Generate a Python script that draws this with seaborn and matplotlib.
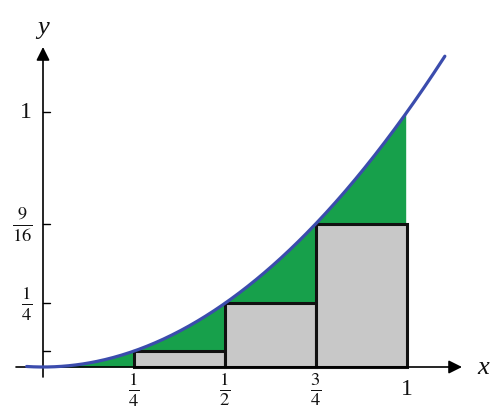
import numpy as np
import matplotlib
matplotlib.use("Agg")
import matplotlib.pyplot as plt
import seaborn as sns

# lower Riemann sum rectangles for y = x^2 on [0, 1], n = 4
rect_left = [0.25, 0.5, 0.75]
rect_height = [1 / 16, 1 / 4, 9 / 16]
rect_width = 0.25

ytick_vals = [1 / 16, 1 / 4, 9 / 16, 1]
ytick_labels = ["", r"$\frac{1}{4}$", r"$\frac{9}{16}$", "1"]
xtick_vals = [0.25, 0.5, 0.75, 1]
xtick_labels = [r"$\frac{1}{4}$", r"$\frac{1}{2}$", r"$\frac{3}{4}$", "1"]

sns.set_theme(style="white")
plt.rcParams["mathtext.fontset"] = "stix"
plt.rcParams["font.family"] = ["Liberation Serif", "DejaVu Serif"]

fig = plt.figure(figsize=(4.99, 4.10), dpi=100)
ax = fig.add_axes([0, 0, 1, 1])
ax.set_xlim(-43 / 364, 456 / 364)
ax.set_ylim(-42 / 255, 368 / 255)
ax.axis("off")

# curve y = x^2
curve = np.linspace(-0.045, 1.104, 300)
inside = (curve >= 0) & (curve <= 1)
ax.fill_between(curve[inside], curve[inside] ** 2,
                color="#17a04b", lw=0, zorder=1)
ax.bar(rect_left, rect_height, width=rect_width, align="edge",
       color="#c8c8c8", edgecolor="#111111", linewidth=2.2, zorder=2)
sns.lineplot(x=curve, y=curve ** 2, color="#3b4cad", lw=2.3, ax=ax,
             zorder=4, sort=False)

# axes with arrows
ax.annotate("", xy=(419 / 364, 0), xytext=(-27 / 364, 0),
            arrowprops=dict(arrowstyle="-|>", color="black", lw=1.2,
                            mutation_scale=20, shrinkA=0, shrinkB=0),
            zorder=3)
ax.annotate("", xy=(0, 320 / 255), xytext=(0, -10 / 255),
            arrowprops=dict(arrowstyle="-|>", color="black", lw=1.2,
                            mutation_scale=20, shrinkA=0, shrinkB=0),
            zorder=3)

for v in ytick_vals:
    ax.plot([0, 7 / 364], [v, v], color="black", lw=1.0, zorder=3)

for v, lab in zip(ytick_vals, ytick_labels):
    ax.text(-11 / 364, v, lab, ha="right", va="center",
            fontsize=17 if lab == "1" else 19, color="#111111")
for v, lab in zip(xtick_vals, xtick_labels):
    ax.text(v, -22 / 255, lab, ha="center", va="center",
            fontsize=17 if lab == "1" else 19, color="#111111")

ax.text(0, 340 / 255, "y", ha="center", va="center", fontsize=19,
        style="italic", color="#111111")
ax.text(440 / 364, 0, "x", ha="center", va="center", fontsize=19,
        style="italic", color="#111111")

fig.savefig("out.png", dpi=100)
